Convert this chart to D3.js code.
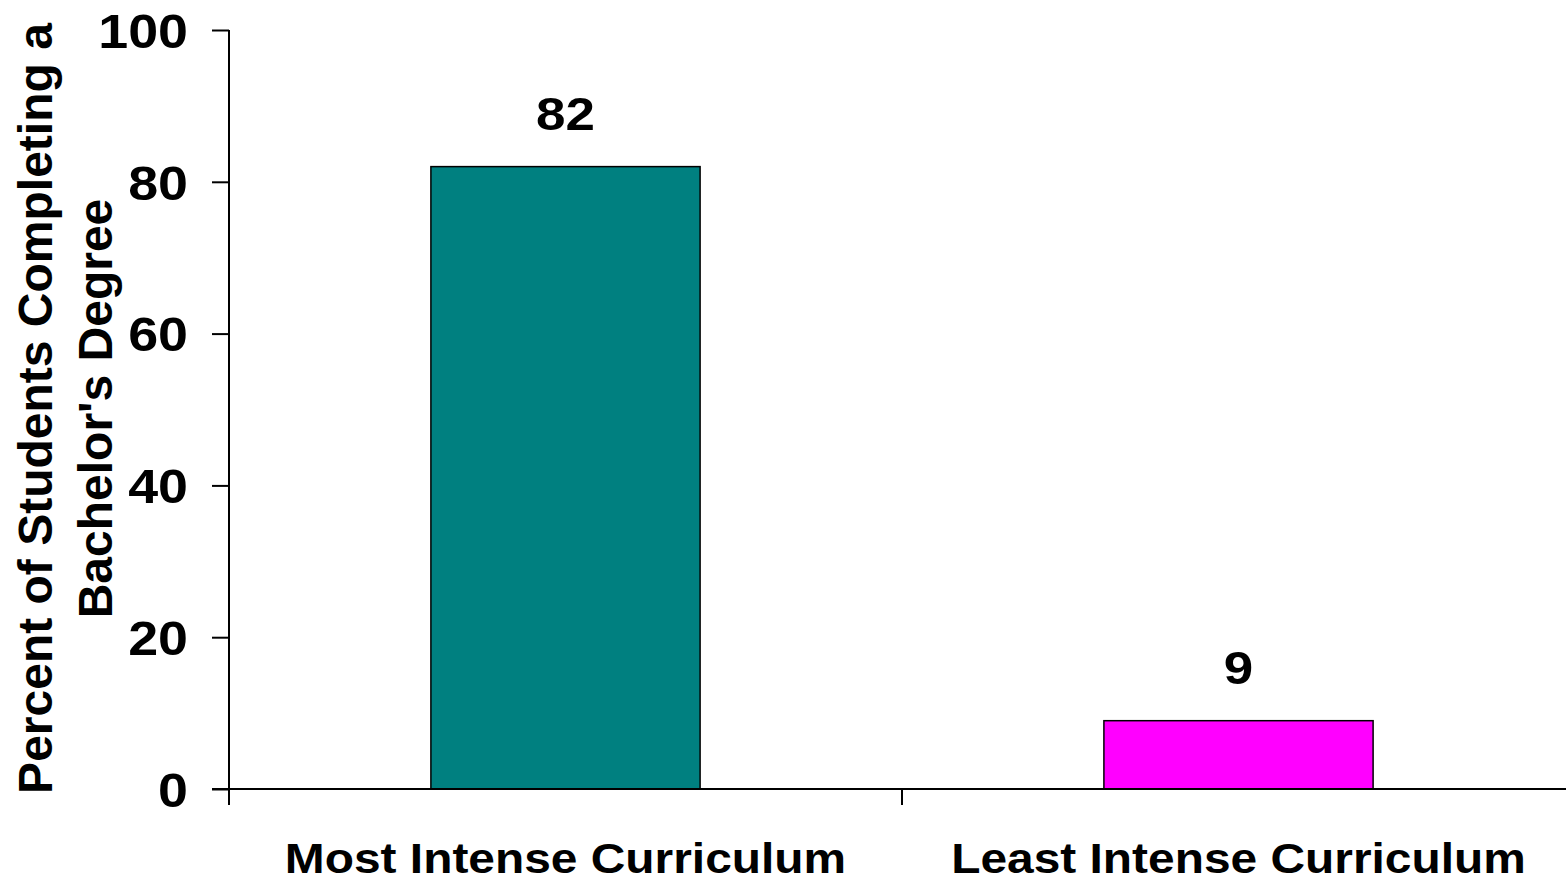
<!DOCTYPE html>
<html>
<head>
<meta charset="utf-8">
<script src="https://cdn.jsdelivr.net/npm/d3@7/dist/d3.min.js"></script>
<style>
  html, body { margin: 0; padding: 0; background: #fff; }
  svg { display: block; }
</style>
</head>
<body>
<svg id="chart" width="1566" height="882"></svg>
<script>
const categories = ["Most Intense Curriculum", "Least Intense Curriculum"];
const values = [82, 9];
const barColors = ["#008080", "#FF00FF"];
const yTicks = [0, 20, 40, 60, 80, 100];
const yTitleLines = ["Percent of Students Completing a", "Bachelor's Degree"];

(function () {
const svg = d3.select("#chart");
const font = "'Liberation Sans', Arial, sans-serif";

const mLeft = 229, mRight = 1575, mTop = 30, mBottom = 789;

function stretch(sel, factor) {
  sel.each(function () {
    const w = this.getComputedTextLength();
    d3.select(this).attr("textLength", w * factor).attr("lengthAdjust", "spacingAndGlyphs");
  });
}

const x = d3.scaleBand().domain(categories).range([mLeft, mRight]).paddingInner(0).paddingOuter(0);
const y = d3.scaleLinear().domain([0, 100]).range([mBottom, mTop]);
const bw = x.bandwidth();

// bars
svg.append("g").selectAll("rect").data(values).join("rect")
  .attr("x", (d, i) => x(categories[i]) + bw * 0.3)
  .attr("width", bw * 0.4)
  .attr("y", d => y(d))
  .attr("height", d => y(0) - y(d))
  .attr("fill", (d, i) => barColors[i])
  .attr("stroke", "#000")
  .attr("stroke-width", 1.5);

// value labels
const vl = svg.append("g").selectAll("text").data(values).join("text")
  .attr("x", (d, i) => x(categories[i]) + bw / 2)
  .attr("y", d => y(d) - 37)
  .attr("text-anchor", "middle")
  .attr("font-family", font)
  .attr("font-weight", "bold")
  .attr("font-size", 46)
  .attr("fill", "#000")
  .text(d => d);
stretch(vl, 1.15);

// y axis
const yAxis = d3.axisLeft(y).tickValues(yTicks).tickSize(17).tickPadding(24).tickFormat(d3.format("d"));
const gy = svg.append("g").attr("transform", `translate(${mLeft},0)`).call(yAxis);
gy.select(".domain").attr("stroke", "#000").attr("stroke-width", 2).attr("d", `M0,${mTop}V${mBottom}`);
gy.selectAll(".tick line").attr("stroke", "#000").attr("stroke-width", 2);
const tt = gy.selectAll(".tick text")
  .attr("font-family", font)
  .attr("font-weight", "bold")
  .attr("font-size", 48)
  .attr("dy", "0.36em")
  .attr("fill", "#000");
stretch(tt, 1.12);

// x axis
const gx = svg.append("g");
gx.append("line")
  .attr("x1", mLeft - 17).attr("x2", mRight)
  .attr("y1", mBottom).attr("y2", mBottom)
  .attr("stroke", "#000").attr("stroke-width", 2);
const boundaries = categories.map(c => x(c)).concat([x.range()[1]]);
gx.selectAll("line.tk").data(boundaries).join("line")
  .attr("class", "tk")
  .attr("x1", d => d).attr("x2", d => d)
  .attr("y1", mBottom).attr("y2", mBottom + 16)
  .attr("stroke", "#000").attr("stroke-width", 2);
const cl = gx.selectAll("text").data(categories).join("text")
  .attr("x", d => x(d) + bw / 2)
  .attr("y", 873)
  .attr("text-anchor", "middle")
  .attr("font-family", font)
  .attr("font-weight", "bold")
  .attr("font-size", 42)
  .attr("fill", "#000")
  .text(d => d);
stretch(cl, 1.14);

// y title
const cy = (mTop + mBottom) / 2 - 1;
const yt = svg.append("g").attr("transform", `translate(0,${cy}) rotate(-90)`);
yt.selectAll("text").data(yTitleLines).join("text")
  .attr("x", 0)
  .attr("y", (d, i) => 52 + i * 60)
  .attr("text-anchor", "middle")
  .attr("font-family", font)
  .attr("font-weight", "bold")
  .attr("font-size", 48)
  .attr("fill", "#000")
  .text(d => d);
})();
</script>
</body>
</html>
